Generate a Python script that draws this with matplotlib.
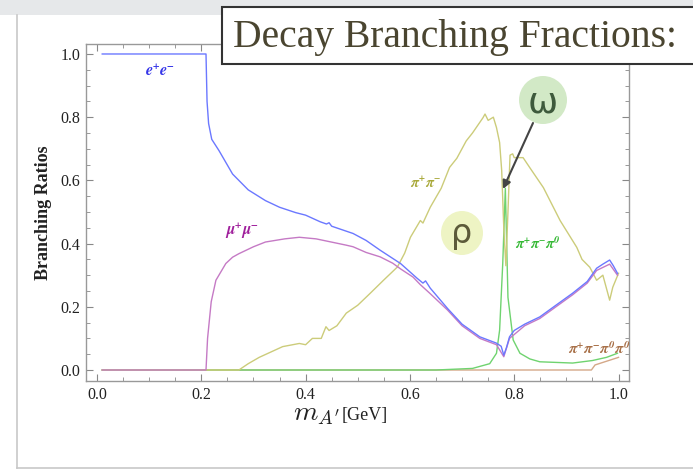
import numpy as np
import matplotlib
matplotlib.use("Agg")
import matplotlib.pyplot as plt
from matplotlib.patches import Ellipse, Rectangle
from matplotlib.lines import Line2D

plt.rcParams['font.family'] = ['Liberation Serif', 'DejaVu Serif']
plt.rcParams['mathtext.fontset'] = 'stix'

# values (m_A' in GeV, branching ratio)
ee_x = [0.01, 0.209, 0.211, 0.214, 0.22, 0.234, 0.26, 0.29, 0.323, 0.35, 0.381, 0.40,
        0.428, 0.44, 0.445, 0.45, 0.491, 0.516, 0.543, 0.582, 0.614, 0.625, 0.63,
        0.639, 0.672, 0.70, 0.734, 0.75, 0.766, 0.775, 0.78, 0.785, 0.791, 0.80,
        0.82, 0.849, 0.88, 0.912, 0.94, 0.958, 0.97, 0.983, 0.99, 0.998]
ee_y = [1.0, 1.0, 0.85, 0.78, 0.73, 0.694, 0.62, 0.57, 0.536, 0.515, 0.498, 0.49,
        0.469, 0.462, 0.466, 0.455, 0.432, 0.41, 0.379, 0.337, 0.29, 0.275, 0.282,
        0.259, 0.195, 0.145, 0.105, 0.095, 0.085, 0.075, 0.047, 0.07, 0.105, 0.125,
        0.145, 0.168, 0.205, 0.243, 0.28, 0.322, 0.335, 0.348, 0.33, 0.306]

mumu_x = [0.01, 0.209, 0.212, 0.219, 0.228, 0.247, 0.26, 0.272, 0.30, 0.323, 0.36,
          0.388, 0.42, 0.452, 0.478, 0.491, 0.516, 0.543, 0.567, 0.582, 0.606, 0.62,
          0.638, 0.672, 0.70, 0.734, 0.766, 0.78, 0.791, 0.82, 0.849, 0.88, 0.912,
          0.94, 0.958, 0.983, 0.998]
mumu_y = [0.0, 0.0, 0.1, 0.216, 0.284, 0.337, 0.357, 0.368, 0.39, 0.405, 0.415,
          0.42, 0.415, 0.404, 0.395, 0.39, 0.372, 0.358, 0.338, 0.32, 0.294, 0.27,
          0.243, 0.19, 0.14, 0.10, 0.08, 0.042, 0.1, 0.14, 0.163, 0.2, 0.238,
          0.275, 0.315, 0.335, 0.30]

pipi_x = [0.01, 0.272, 0.29, 0.311, 0.356, 0.388, 0.40, 0.413, 0.43, 0.439, 0.445,
          0.46, 0.478, 0.50, 0.524, 0.55, 0.576, 0.59, 0.601, 0.62, 0.625, 0.639,
          0.66, 0.676, 0.69, 0.708, 0.72, 0.74, 0.744, 0.75, 0.76, 0.766, 0.772,
          0.776, 0.780, 0.784, 0.788, 0.792, 0.797, 0.80, 0.817, 0.83, 0.856, 0.888,
          0.92, 0.93, 0.945, 0.958, 0.97, 0.983, 0.989, 1.0]
pipi_y = [0.0, 0.0, 0.02, 0.04, 0.074, 0.084, 0.08, 0.10, 0.10, 0.137, 0.125,
          0.14, 0.18, 0.205, 0.243, 0.285, 0.326, 0.37, 0.42, 0.473, 0.465, 0.515,
          0.575, 0.641, 0.67, 0.725, 0.75, 0.798, 0.81, 0.79, 0.80, 0.767, 0.72,
          0.631, 0.45, 0.33, 0.5, 0.68, 0.684, 0.672, 0.672, 0.64, 0.577, 0.473,
          0.388, 0.35, 0.325, 0.284, 0.30, 0.221, 0.262, 0.306]

pi3_x = [0.01, 0.65, 0.72, 0.753, 0.766, 0.772, 0.778, 0.783, 0.788, 0.798, 0.811,
         0.83, 0.849, 0.912, 0.95, 0.977, 0.998]
pi3_y = [0.0, 0.0, 0.005, 0.02, 0.053, 0.126, 0.337, 0.575, 0.23, 0.095, 0.053,
         0.035, 0.026, 0.022, 0.03, 0.04, 0.053]

pi4_x = [0.01, 0.948, 0.955, 1.0]
pi4_y = [0.0, 0.0, 0.016, 0.04]

fig = plt.figure(figsize=(6.93, 4.69), dpi=100)

# slide-like frame around the chart
fig.add_artist(Rectangle((0, 1 - 15 / 469), 1, 15 / 469, transform=fig.transFigure,
                         facecolor='#e6e8ea', edgecolor='none', zorder=0))
fig.add_artist(Line2D([17 / 693, 17 / 693], [1 - 15 / 469, 1 - 468 / 469],
                      transform=fig.transFigure, color='#c8c8c8', lw=1.2))
fig.add_artist(Line2D([17 / 693, 1], [1 - 468 / 469, 1 - 468 / 469],
                      transform=fig.transFigure, color='#c8c8c8', lw=1.2))

ax = fig.add_axes([86 / 693, 1 - 381 / 469, 543 / 693, 337 / 469])

ax.plot(pi4_x, pi4_y, color='#d4a888', lw=1.0)
ax.plot(pi3_x, pi3_y, color='#6fd36f', lw=1.0)
ax.plot(pipi_x, pipi_y, color='#cccc7a', lw=1.0)
ax.plot(mumu_x, mumu_y, color='#c57ac5', lw=1.0)
ax.plot(ee_x, ee_y, color='#6b78ff', lw=1.0)

ax.set_xlim(-0.0211, 1.0201)
ax.set_ylim(-0.0348, 1.0316)
ax.set_xticks([0.0, 0.2, 0.4, 0.6, 0.8, 1.0])
ax.set_yticks([0.0, 0.2, 0.4, 0.6, 0.8, 1.0])
ax.set_xticks(np.arange(0, 1.01, 0.05), minor=True)
ax.set_yticks(np.arange(0, 1.01, 0.05), minor=True)
ax.set_xticklabels(['0.0', '0.2', '0.4', '0.6', '0.8', '1.0'])
ax.set_yticklabels(['0.0', '0.2', '0.4', '0.6', '0.8', '1.0'])
ax.tick_params(which='both', direction='in', top=True, right=True, color='#888888',
               labelsize=11.5, labelcolor='#222222', pad=4)
ax.tick_params(which='major', length=5, width=0.8)
ax.tick_params(which='minor', length=3, width=0.6)
for s in ax.spines.values():
    s.set_color('#999999')
    s.set_linewidth(1.0)

ax.set_ylabel('Branching Ratios', fontsize=13, fontweight='bold', color='#222222',
              labelpad=6)

# curve labels
ax.text(0.121, 0.943, r'$\mathbfit{e^{+}e^{-}}$', color='#3535e8', fontsize=11.5,
        ha='center', va='center')
ax.text(0.278, 0.44, r'$\mathbfit{\mu^{+}\mu^{-}}$', color='#a0209c', fontsize=11.5,
        ha='center', va='center')
ax.text(0.63, 0.592, r'$\mathbfit{\pi^{+}\pi^{-}}$', color='#a8a838', fontsize=10.5,
        ha='center', va='center')
ax.text(0.845, 0.40, r'$\mathbfit{\pi^{+}\pi^{-}\pi^{0}}$', color='#34b834',
        fontsize=10.5, ha='center', va='center')
ax.text(0.962, 0.066, r'$\mathbfit{\pi^{+}\pi^{-}\pi^{0}\pi^{0}}$', color='#a87048',
        fontsize=11, ha='center', va='center')

# x label: big m_A' plus small [GeV]
fig.text(316 / 693, 1 - 414 / 469, r"$m_{A'}$", fontsize=20, ha='center', va='center',
         math_fontfamily='cm', color='#222222')
fig.text(342 / 693, 1 - 415 / 469, '[GeV]', fontsize=13, ha='left', va='center',
         color='#222222')

# resonance bubbles
fig.add_artist(Ellipse((543 / 693, 1 - 100 / 469), 48 / 693, 48 / 469,
                       transform=fig.transFigure, facecolor='#d2e9c6', edgecolor='none',
                       zorder=4))
fig.text(543 / 693, 1 - 102 / 469, 'ω', fontsize=26, family='DejaVu Sans', ha='center',
         va='center', color='#3e5a3c', zorder=5)
fig.add_artist(Ellipse((462 / 693, 1 - 233 / 469), 42 / 693, 44 / 469,
                       transform=fig.transFigure, facecolor='#eef4c4', edgecolor='none',
                       zorder=4))
fig.text(462 / 693, 1 - 233 / 469, 'ρ', fontsize=24, family='DejaVu Sans', ha='center',
         va='center', color='#5c5a3a', zorder=5)
ax.annotate('', xy=(503 / 693, 1 - 189 / 469), xycoords='figure fraction',
            xytext=(533 / 693, 1 - 123 / 469), textcoords='figure fraction',
            arrowprops=dict(arrowstyle='-|>', color='#444444', lw=1.5,
                            mutation_scale=12, shrinkA=0, shrinkB=0), zorder=6)

# title box
fig.add_artist(Rectangle((222 / 693, 1 - 64 / 469), 0.7, 57 / 469,
                         transform=fig.transFigure, facecolor='white',
                         edgecolor='#333333', lw=1.5, zorder=6))
fig.text(233 / 693, 1 - 37 / 469, 'Decay Branching Fractions:', fontsize=28.5,
         color='#4a4530', ha='left', va='center', zorder=7)

fig.savefig('out.png', dpi=100)
